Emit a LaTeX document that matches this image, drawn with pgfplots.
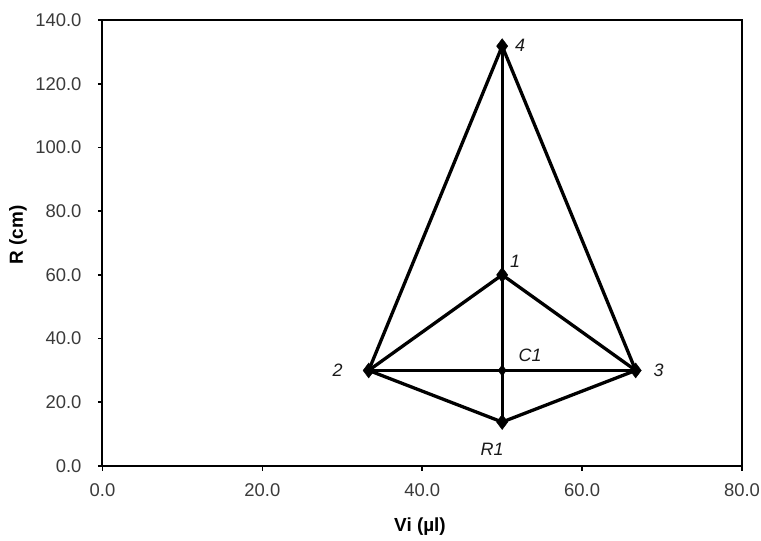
\documentclass[border=0pt]{standalone}
\usepackage{fontspec}
\setmainfont{Liberation Sans}
\usepackage{pgfplots}
\pgfplotsset{compat=1.18}
\definecolor{tickgray}{HTML}{3A3A3A}

\begin{document}
\begin{tikzpicture}
\begin{axis}[
  scale only axis,
  width=639.5bp, height=446bp,
  xmin=0, xmax=80, ymin=0, ymax=140,
  xtick={0,20,...,80}, ytick={0,20,...,140},
  tick pos=left,
  tick align=outside,
  major tick length=4.5bp,
  axis line style={line width=2bp},
  tick style={line width=1.6bp, black},
  /pgf/number format/assume math mode=true,
  /pgf/number format/fixed,
  /pgf/number format/fixed zerofill,
  /pgf/number format/precision=1,
  ticklabel style={font=\fontsize{18.5}{18.5}\selectfont, text=tickgray},
  yticklabel style={xshift=-13bp},
  xticklabel style={yshift=-10bp},
  xlabel={Vi (µl)}, ylabel={R (cm)},
  label style={font=\fontsize{19}{19}\selectfont\bfseries},
  xlabel style={at={(axis description cs:0.4965,-0.137)}, anchor=center},
  ylabel style={at={(axis description cs:-0.132,0.518)}, anchor=center},
  clip=false,
]
  % edges of the design
  \addplot[black, line width=3.3bp, line join=round] coordinates {(33.3,30) (50,131.8) (66.7,30)};
  \addplot[black, line width=3.3bp, line join=round] coordinates {(33.3,30) (50,60) (66.7,30)};
  \addplot[black, line width=3.3bp, line join=round] coordinates {(33.3,30) (50,13.8) (66.7,30)};
  \addplot[black, line width=3.3bp] coordinates {(33.3,30) (50,30) (66.7,30)};
  \addplot[black, line width=3.3bp] coordinates {(50,13.8) (50,30) (50,60) (50,131.8)};
  % vertices
  \addplot[only marks, mark=diamond*, mark size=7.5bp, black] coordinates {(33.3,30) (50,131.8) (66.7,30) (50,60) (50,13.8)};
  \addplot[only marks, mark=diamond*, mark size=5.5bp, black] coordinates {(50,30)};
  % point names
  \begin{scope}[every node/.style={font=\fontsize{18}{18}\selectfont\itshape, text=black!90}]
    \node at (axis cs:50,131.8) [xshift=18bp, yshift=1bp] {4};
    \node at (axis cs:50,60) [xshift=13bp, yshift=14bp] {1};
    \node at (axis cs:33.3,30) [xshift=-31bp] {2};
    \node at (axis cs:66.7,30) [xshift=23bp] {3};
    \node at (axis cs:50,30) [xshift=28bp, yshift=15bp] {C1};
    \node at (axis cs:50,13.8) [xshift=-10bp, yshift=-27bp] {R1};
  \end{scope}
\end{axis}
\pgfresetboundingbox
\path (-102.5bp,-75bp) rectangle (658.5bp,466bp);
\end{tikzpicture}
\end{document}
